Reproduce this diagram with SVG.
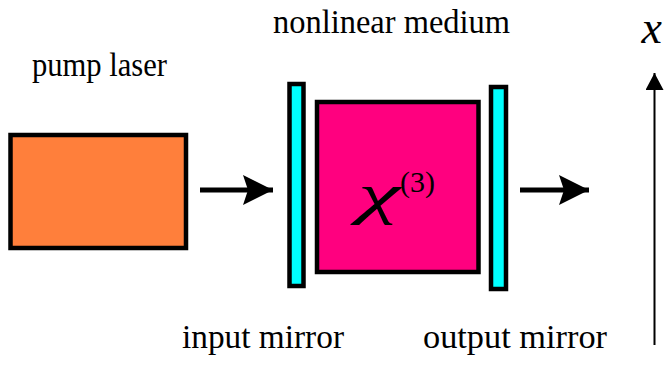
<svg xmlns="http://www.w3.org/2000/svg" width="667" height="367" viewBox="0 0 667 367">
<style>
.serif{font-family:"Liberation Serif","DejaVu Serif","Times New Roman",serif}
.lbl{font-size:33px;fill:#000}
.box{stroke:#000;stroke-width:4.5}
.mir{fill:#00FFFF;stroke:#000;stroke-width:4.5}
.beam{stroke:#000;stroke-width:5;fill:none}
</style>
<defs>
<marker id="head" markerUnits="userSpaceOnUse" markerWidth="32" markerHeight="30" refX="30" refY="15" orient="auto">
<path d="M0,0 L30,15 L0,30 L5,15 Z" fill="#000"/>
</marker>
<marker id="headThin" markerUnits="userSpaceOnUse" markerWidth="18" markerHeight="18" refX="17" refY="9" orient="auto">
<path d="M0,0 L17,9 L0,18 Z" fill="#000"/>
</marker>
</defs>
<rect width="667" height="367" fill="#fff"/>
<g id="pump-laser">
<rect class="box" x="10.5" y="135" width="175.5" height="113" fill="#FF7F3B"/>
<text class="serif lbl" x="32" y="76" textLength="135" lengthAdjust="spacingAndGlyphs">pump laser</text>
</g>
<g id="input-mirror">
<rect class="mir" x="289.5" y="84" width="14" height="202"/>
<text class="serif lbl" x="182" y="348" textLength="162" lengthAdjust="spacingAndGlyphs">input mirror</text>
</g>
<g id="nonlinear-medium">
<rect class="box" x="317" y="102" width="161.5" height="170" fill="#FF007F"/>
<text class="serif lbl" x="273" y="33" textLength="237" lengthAdjust="spacingAndGlyphs">nonlinear medium</text>
<text class="serif" font-style="italic" font-size="58" x="358" y="213" textLength="42" lengthAdjust="spacingAndGlyphs">χ</text>
<text class="serif" font-size="30" x="400" y="192">(3)</text>
</g>
<g id="output-mirror">
<rect class="mir" x="491" y="87" width="15" height="202"/>
<text class="serif lbl" x="423" y="348" textLength="184" lengthAdjust="spacingAndGlyphs">output mirror</text>
</g>
<g id="axis">
<text class="serif" font-style="italic" font-size="46" x="662" y="43" text-anchor="end">x</text>
</g>
<g id="connectors">
<line class="beam" x1="200" y1="190" x2="273" y2="190" marker-end="url(#head)"/>
<line class="beam" x1="520" y1="190" x2="589" y2="190" marker-end="url(#head)"/>
<line x1="654.5" y1="345" x2="654.5" y2="73" stroke="#000" stroke-width="2" marker-end="url(#headThin)"/>
</g>
</svg>
